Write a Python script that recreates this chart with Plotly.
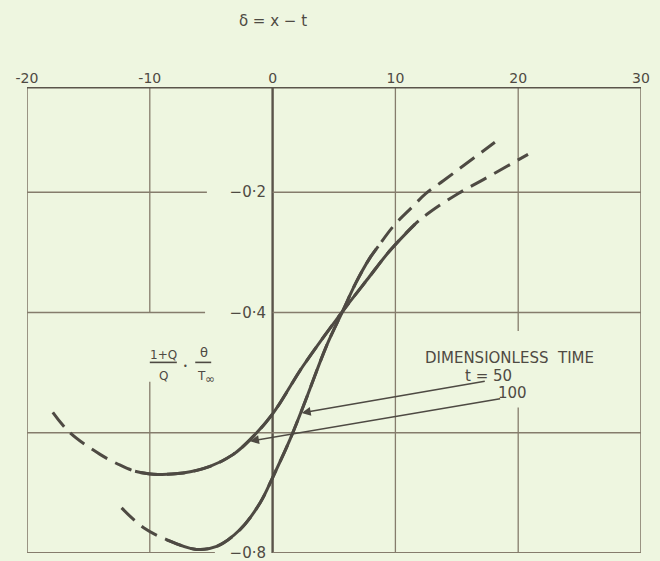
import plotly.graph_objects as go

# ---- data (delta = x - t, value = (1+Q)/Q * theta/T_inf) ----
x_ticks = [-20, -10, 0, 10, 20, 30]
x_tick_text = ["-20", "-10", "0", "10", "20", "30"]
y_ticks = [-0.2, -0.4, -0.8]
y_tick_text = ["\u22120\u00b72", "\u22120\u00b74", "\u22120\u00b78"]

# t = 50 (steeper curve): whole curve, and the part drawn solid
t50_d = [-12.3, -10.5, -8.6, -6.2, -4.55, -2.65, -1.0, 0.06, 1.42, 2.5, 4.4, 5.7, 6.8,
         7.9, 8.6, 9.9, 11.3, 12.49, 13.9, 15.53, 18.1]
t50_v = [-0.725, -0.758, -0.778, -0.794, -0.789, -0.761, -0.716, -0.672, -0.611, -0.556,
         -0.455, -0.398, -0.350, -0.310, -0.290, -0.255, -0.226, -0.202, -0.181, -0.156, -0.117]
t50_solid_from = -8.6
t50_solid_to = 8.6

# t = 100 (shallower curve)
t100_d = [-17.9, -16.5, -14.05, -12.4, -11.2, -9.7, -7.3, -5.1, -3.2, -1.57, 0.06, 2.48,
          5.7, 7.79, 9.56, 11.6, 12.82, 15.12, 17.16, 20.8]
t100_v = [-0.566, -0.600, -0.636, -0.654, -0.664, -0.669, -0.667, -0.656, -0.636, -0.606,
          -0.567, -0.489, -0.398, -0.343, -0.297, -0.253, -0.233, -0.202, -0.179, -0.137]
t100_solid_from = -11.2
t100_solid_to = 11.6

# ---- styling ----
BG = "#eef6e0"
INK = "#4e4a43"
GRID = "#857c6c"
FONT = "DejaVu Sans"
X_RANGE = [-20, 30]
Y_RANGE = [-0.8, -0.025]

fig = go.Figure()


def add_curve(d, v, lo, hi):
    # dashed across the whole range, solid over the measured part on top
    fig.add_trace(go.Scatter(
        x=d, y=v, mode="lines",
        line=dict(color=INK, width=3, shape="spline", smoothing=1.0, dash="18px,9px"),
        hoverinfo="skip", showlegend=False))
    sd = [a for a in d if lo <= a <= hi]
    sv = [b for a, b in zip(d, v) if lo <= a <= hi]
    fig.add_trace(go.Scatter(
        x=sd, y=sv, mode="lines",
        line=dict(color=INK, width=3, shape="spline", smoothing=1.0),
        hoverinfo="skip", showlegend=False))


add_curve(t50_d, t50_v, t50_solid_from, t50_solid_to)
add_curve(t100_d, t100_v, t100_solid_from, t100_solid_to)


# ---- grid lines (with the gaps left for lettering in the original) ----
def seg(x0, y0, x1, y1, w=1.3, c=GRID):
    fig.add_shape(type="line", xref="x", yref="y", x0=x0, y0=y0, x1=x1, y1=y1,
                  line=dict(color=c, width=w), layer="below")


top = Y_RANGE[1]
bot = Y_RANGE[0]
# verticals
seg(-20, bot, -20, top, 1.6)
seg(-10, -0.4, -10, top)
seg(-10, bot, -10, -0.515)
seg(0, bot, 0, top, 2.4, "#5a544a")
seg(10, bot, 10, top)
seg(20, -0.431, 20, top)
seg(20, bot, 20, -0.558)
seg(30, bot, 30, top, 1.6)
# horizontals
seg(-20, top, 30, top, 3, "#5a544a")
seg(-20, -0.2, -5.35, -0.2)
seg(0, -0.2, 30, -0.2)
seg(-20, -0.4, -5.5, -0.4)
seg(0, -0.4, 30, -0.4)
seg(-20, -0.6, 30, -0.6)
seg(-20, bot, -4.7, bot, 2)
seg(0, bot, 30, bot, 2)


# ---- y-axis label: (1+Q)/Q . theta/T_inf ----
def txt(x, y, s, size=12):
    fig.add_annotation(x=x, y=y, xref="x", yref="y", text=s, showarrow=False,
                       font=dict(family=FONT, size=size, color=INK))


txt(-8.9, -0.470, "1+Q")
seg(-10.0, -0.483, -7.8, -0.483, 1.6, INK)
txt(-8.9, -0.505, "Q")
txt(-7.1, -0.489, "\u2022", 8)
txt(-5.6, -0.467, "\u03b8", 13)
seg(-6.3, -0.483, -5.0, -0.483, 1.6, INK)
txt(-5.75, -0.505, "T")
txt(-5.1, -0.511, "\u221e", 12)

# ---- legend text and arrows ----
txt(19.3, -0.475, "DIMENSIONLESS  TIME", 15)
txt(17.6, -0.506, "t = 50", 15)
txt(19.5, -0.534, "100", 15)


def arrow(hx, hy, tx, ty):
    fig.add_annotation(x=hx, y=hy, ax=tx, ay=ty, xref="x", yref="y",
                       axref="x", ayref="y", text="", showarrow=True,
                       arrowhead=2, arrowsize=1.2, arrowwidth=1.5, arrowcolor=INK)


arrow(2.37, -0.567, 17.4, -0.514)
arrow(-1.84, -0.614, 18.65, -0.543)

fig.update_layout(
    width=660, height=561,
    margin=dict(l=27, r=19, t=87, b=8, autoexpand=False),
    paper_bgcolor=BG, plot_bgcolor=BG,
    font=dict(family=FONT, color=INK, size=13),
    title=dict(text="\u03b4 = x \u2212 t", x=(273 - 27) / 614, xref="paper",
               xanchor="center", y=1 - 21 / 561, yanchor="middle",
               font=dict(family=FONT, size=15, color=INK)),
    xaxis=dict(range=X_RANGE, side="top", tickvals=x_ticks, ticktext=x_tick_text,
               showgrid=False, zeroline=False, showline=False, ticks="",
               automargin=False,
               tickfont=dict(family=FONT, size=14, color=INK), fixedrange=True),
    yaxis=dict(range=Y_RANGE, anchor="free", position=(273 - 27) / 614,
               tickvals=y_ticks, ticktext=y_tick_text, ticks="", ticklabelstandoff=7,
               ticklabeloverflow="allow", automargin=False,
               showgrid=False, zeroline=False, showline=False,
               tickfont=dict(family=FONT, size=15, color=INK), fixedrange=True),
    showlegend=False,
)

fig.write_html("out.html", config={"displayModeBar": False},
               post_script="document.body.style.margin='0px';")
